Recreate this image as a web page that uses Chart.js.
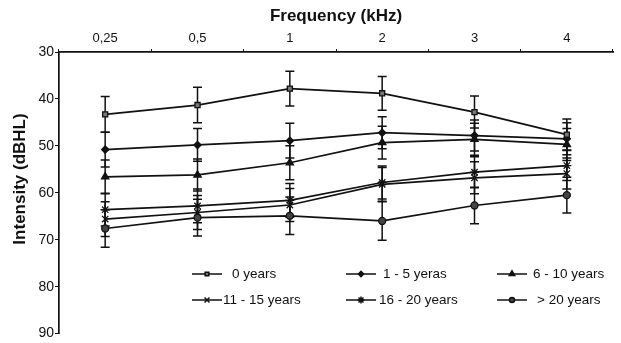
<!DOCTYPE html>
<html>
<head>
<meta charset="utf-8">
<script src="https://cdn.jsdelivr.net/npm/chart.js@4"></script>
<style>
  html, body { margin: 0; padding: 0; background: #fff; }
  #wrap { width: 621px; height: 343px; }
</style>
</head>
<body>
<div id="wrap"><canvas id="audioChart"></canvas></div>
<script>
// categories (kHz) and tick labels
const frequencies = ["0,25", "0,5", "1", "2", "3", "4"];
const yTicks = [30, 40, 50, 60, 70, 80, 90];

// mean thresholds (dBHL) per age group
const years0 = [43.3, 41.3, 37.8, 38.8, 42.8, 47.6];
const years1to5 = [50.8, 49.8, 48.9, 47.2, 47.8, 48.5];
const years6to10 = [56.6, 56.2, 53.6, 49.3, 48.6, 49.7];
const years11to15 = [65.6, 64.2, 62.6, 58.2, 56.8, 55.9];
const years16to20 = [63.6, 62.8, 61.6, 57.8, 55.6, 54.2];
const years20plus = [67.6, 65.3, 64.9, 66.0, 62.7, 60.5];

// standard deviations for the error bars
const sd0 = [3.8, 3.8, 3.7, 3.6, 3.4, 3.3];
const sd1to5 = [3.7, 3.5, 3.7, 3.4, 3.3, 3.4];
const sd6to10 = [3.6, 3.4, 3.6, 3.5, 3.4, 3.4];
const sd11to15 = [3.7, 3.6, 3.5, 3.6, 3.4, 3.3];
const sd16to20 = [3.5, 3.6, 3.6, 3.5, 3.3, 3.2];
const sd20plus = [4.0, 3.9, 4.0, 4.1, 3.9, 3.8];

const groupLabels = ["0 years", "1 - 5 yeras", "6 - 10 years", "11 - 15 years", "16 - 20 years", "> 20 years"];

const FONT = "'Liberation Sans', Arial, sans-serif";

function makeSet(label, data, sd, style, radius, fill) {
    return {
        label: label,
        data: data,
        sd: sd,
        borderColor: "#111",
        borderWidth: 1.7,
        pointStyle: style,
        pointRadius: radius,
        pointBackgroundColor: fill,
        pointBorderColor: "#111",
        pointBorderWidth: 1.3,
        tension: 0,
        fill: false
    };
}

// error bars, drawn with the chart's own scales
const errorBars = {
    id: "errorBars",
    beforeDatasetsDraw(chart) {
        const ctx = chart.ctx;
        const x = chart.scales.x, y = chart.scales.y;
        ctx.save();
        ctx.strokeStyle = "#111";
        ctx.lineWidth = 1.5;
        chart.data.datasets.forEach(ds => {
            ds.data.forEach((v, i) => {
                const px = x.getPixelForValue(i);
                const top = y.getPixelForValue(v - ds.sd[i]);
                const bot = y.getPixelForValue(v + ds.sd[i]);
                ctx.beginPath();
                ctx.moveTo(px, top); ctx.lineTo(px, bot);
                ctx.moveTo(px - 4.5, top); ctx.lineTo(px + 4.5, top);
                ctx.moveTo(px - 4.5, bot); ctx.lineTo(px + 4.5, bot);
                ctx.stroke();
            });
        });
        ctx.restore();
    }
};

// legend inside the plot (3 columns x 2 rows) and the rotated y title
const innerLegend = {
    id: "innerLegend",
    afterDraw(chart) {
        const ctx = chart.ctx;
        const cols = [192, 346, 497];
        const rows = [274, 300];
        const textX = [[232, 383, 533], [223, 379, 537]];
        ctx.save();
        ctx.font = "13.5px " + FONT;
        ctx.textBaseline = "middle";
        chart.data.datasets.forEach((ds, k) => {
            const r = Math.floor(k / 3), c = k % 3;
            const x0 = cols[c], yy = rows[r];
            ctx.strokeStyle = "#111";
            ctx.lineWidth = 1.5;
            ctx.beginPath();
            ctx.moveTo(x0, yy); ctx.lineTo(x0 + 30, yy);
            ctx.stroke();
            ctx.fillStyle = ds.pointBackgroundColor;
            Chart.helpers.drawPoint(ctx, {
                pointStyle: ds.pointStyle,
                radius: Math.max(2.5, ds.pointRadius - 1),
                borderWidth: 1.2
            }, x0 + 15, yy);
            ctx.fillStyle = "#111";
            ctx.fillText(ds.label, textX[r][c], yy);
        });

        ctx.translate(20, 179);
        ctx.rotate(-Math.PI / 2);
        ctx.textAlign = "center";
        ctx.font = "bold 17px " + FONT;
        ctx.fillText("Intensity (dBHL)", 0, 0);
        ctx.restore();
    }
};

new Chart(document.getElementById("audioChart").getContext("2d"), {
    type: "line",
    data: {
        labels: frequencies,
        datasets: [
            makeSet(groupLabels[0], years0, sd0, "rect", 3.6, "#777"),
            makeSet(groupLabels[1], years1to5, sd1to5, "rectRot", 3.6, "#111"),
            makeSet(groupLabels[2], years6to10, sd6to10, "triangle", 4.2, "#111"),
            makeSet(groupLabels[3], years11to15, sd11to15, "crossRot", 4.5, "#111"),
            makeSet(groupLabels[4], years16to20, sd16to20, "star", 4.5, "#111"),
            makeSet(groupLabels[5], years20plus, sd20plus, "circle", 3.5, "#444")
        ]
    },
    options: {
        responsive: true,
        maintainAspectRatio: false,
        animation: false,
        layout: { padding: { left: 0, right: 8, top: 0, bottom: 9 } },
        plugins: {
            legend: { display: false },
            tooltip: { enabled: false }
        },
        scales: {
            x: {
                type: "category",
                position: "top",
                offset: true,
                grid: {
                    offset: true,
                    drawOnChartArea: false,
                    color: "#111",
                    tickLength: 3
                },
                border: { color: "#111", width: 1.7 },
                ticks: {
                    color: "#111",
                    font: { family: FONT, size: 13 },
                    padding: 3
                },
                title: {
                    display: true,
                    text: "Frequency (kHz)",
                    color: "#111",
                    font: { family: FONT, size: 17, weight: "bold" },
                    padding: { top: 6, bottom: 4 }
                },
                afterFit: s => { s.height = 52; }
            },
            y: {
                min: 30,
                max: 90,
                reverse: true,
                afterBuildTicks: s => { s.ticks = yTicks.map(v => ({ value: v })); },
                grid: {
                    drawOnChartArea: false,
                    color: "#111",
                    tickLength: 4
                },
                border: { color: "#111", width: 1.7 },
                ticks: {
                    color: "#111",
                    font: { family: FONT, size: 14 },
                    padding: 1
                },
                afterFit: s => { s.width = 59; }
            }
        }
    },
    plugins: [errorBars, innerLegend]
});
</script>
</body>
</html>
